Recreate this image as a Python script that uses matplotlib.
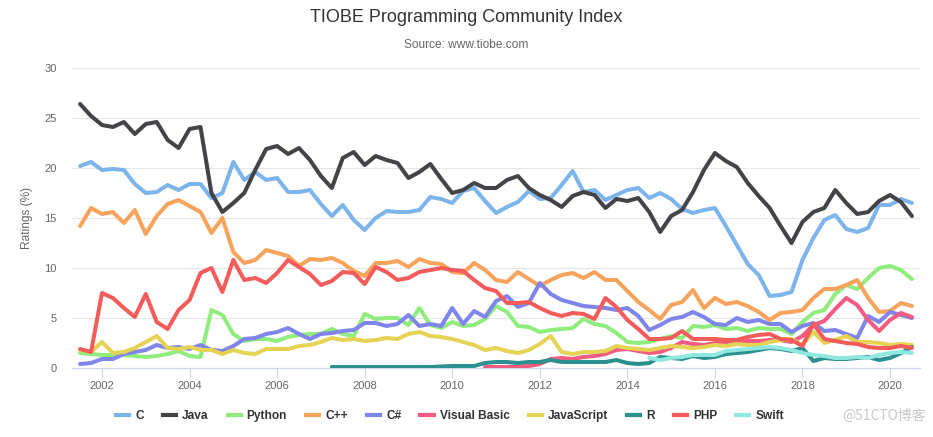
import numpy as np
import matplotlib.pyplot as plt
from matplotlib.lines import Line2D

plt.rcParams['font.family'] = ['Liberation Sans', 'DejaVu Sans']

# quarterly readings, mid 2001 .. mid 2020 (one row per year)
quarters = np.arange(2001.5, 2020.51, 0.25)

c_vals = [20.2, 20.6,
          19.8, 19.9, 19.8, 18.4,
          17.5, 17.6, 18.3, 17.8,
          18.4, 18.4, 17.0, 17.5,
          20.6, 18.8, 19.6, 18.8,
          19.0, 17.6, 17.6, 17.8,
          16.4, 15.2, 16.3, 14.8,
          13.8, 15.0, 15.7, 15.6,
          15.6, 15.8, 17.1, 16.9,
          16.5, 17.7, 18.0, 16.7,
          15.5, 16.1, 16.6, 17.7,
          16.9, 17.0, 18.3, 19.7,
          17.6, 17.8, 16.8, 17.3,
          17.8, 18.0, 17.0, 17.5,
          16.9, 15.9, 15.5, 15.8,
          16.0, 14.2, 12.3, 10.4,
          9.3, 7.2, 7.3, 7.6,
          10.8, 13.0, 14.8, 15.3,
          13.9, 13.6, 14.0, 16.3,
          16.3, 16.9, 16.5]

java_vals = [26.4, 25.2,
             24.3, 24.1, 24.6, 23.4,
             24.4, 24.6, 22.8, 22.0,
             23.9, 24.1, 17.5, 15.6,
             16.5, 17.5, 19.8, 21.9,
             22.2, 21.4, 22.0, 20.8,
             19.2, 18.0, 21.0, 21.6,
             20.3, 21.2, 20.8, 20.5,
             19.0, 19.6, 20.4, 18.9,
             17.5, 17.8, 18.5, 18.0,
             18.0, 18.8, 19.2, 18.0,
             17.3, 16.8, 16.1, 17.2,
             17.6, 17.3, 16.0, 16.9,
             16.7, 17.0, 15.6, 13.6,
             15.2, 15.8, 17.6, 19.8,
             21.5, 20.7, 20.1, 18.5,
             17.2, 16.0, 14.2, 12.5,
             14.6, 15.6, 16.0, 17.8,
             16.5, 15.4, 15.6, 16.7,
             17.3, 16.6, 15.2]

python_vals = [1.5, 1.4,
               1.3, 1.3, 1.3, 1.2,
               1.1, 1.2, 1.4, 1.7,
               1.2, 1.1, 5.8, 5.3,
               3.4, 2.7, 2.9, 2.9,
               2.7, 3.1, 3.3, 3.4,
               3.4, 3.9, 3.4, 3.2,
               5.4, 4.9, 5.0, 5.0,
               4.3, 6.0, 4.3, 4.0,
               4.6, 4.2, 4.3, 4.9,
               6.2, 5.6, 4.2, 4.1,
               3.6, 3.8, 3.9, 4.0,
               4.9, 4.4, 4.2, 3.5,
               2.6, 2.5, 2.6, 2.9,
               3.2, 3.0, 4.2, 4.1,
               4.3, 3.9, 4.0, 3.7,
               4.0, 3.9, 3.9, 3.4,
               4.6, 5.5, 5.8, 7.4,
               8.3, 7.9, 9.0, 10.0,
               10.2, 9.8, 8.9]

cpp_vals = [14.2, 16.0,
            15.4, 15.6, 14.5, 15.8,
            13.4, 15.2, 16.4, 16.8,
            16.2, 15.6, 13.5, 15.0,
            11.6, 10.5, 10.8, 11.8,
            11.5, 11.2, 10.2, 10.9,
            10.8, 11.0, 10.5, 9.7,
            9.2, 10.5, 10.5, 10.7,
            10.1, 10.9, 10.5, 10.4,
            9.6, 9.5, 10.5, 9.8,
            8.8, 8.6, 9.6, 8.9,
            8.2, 8.8, 9.3, 9.5,
            9.0, 9.6, 8.8, 8.8,
            7.7, 6.6, 5.8, 4.9,
            6.3, 6.6, 7.8, 6.0,
            7.0, 6.4, 6.6, 6.2,
            5.6, 4.8, 5.5, 5.6,
            5.8, 7.0, 7.9, 7.9,
            8.3, 8.8, 7.0, 5.6,
            5.7, 6.5, 6.2]

csharp_vals = [0.4, 0.5,
               0.9, 0.9, 1.4, 1.6,
               1.8, 2.3, 2.0, 2.1,
               1.9, 2.3, 1.8, 1.7,
               2.2, 2.9, 3.0, 3.4,
               3.6, 4.0, 3.4, 2.9,
               3.4, 3.5, 3.7, 3.8,
               4.5, 4.5, 4.2, 4.4,
               5.3, 4.2, 4.4, 4.2,
               6.0, 4.4, 5.7, 5.1,
               6.7, 7.2, 6.1, 6.5,
               8.5, 7.4, 6.8, 6.5,
               6.2, 6.1, 6.0, 5.8,
               6.0, 5.2, 3.8, 4.3,
               4.9, 5.1, 5.6, 5.1,
               4.4, 4.3, 5.0, 4.6,
               4.8, 4.4, 4.4, 3.6,
               4.2, 4.5, 3.7, 3.8,
               3.4, 3.0, 5.2, 4.6,
               5.6, 5.3, 5.0]

# Visual Basic starts late 2010
vb_start = 2010.75
vb_vals = [0.1,
           0.1, 0.1, 0.15, 0.2,
           0.4, 0.9, 1.0, 0.9,
           1.1, 1.2, 1.4, 1.8,
           1.9, 1.7, 1.5, 1.6,
           2.0, 2.6, 2.4, 2.3,
           2.5, 2.6, 2.5, 2.7,
           2.7, 2.8, 2.8, 2.6,
           3.2, 4.3, 4.7, 5.9,
           7.0, 6.3, 4.8, 3.7,
           4.8, 5.5, 5.1]

js_vals = [1.8, 1.6,
           2.6, 1.5, 1.6, 2.0,
           2.6, 3.2, 2.0, 1.9,
           2.1, 1.8, 1.8, 1.4,
           1.8, 1.5, 1.4, 1.9,
           1.9, 1.9, 2.2, 2.3,
           2.6, 3.0, 2.8, 2.9,
           2.7, 2.8, 3.0, 2.9,
           3.4, 3.6, 3.2, 3.1,
           2.9, 2.6, 2.3, 1.8,
           2.0, 1.7, 1.5, 1.8,
           2.4, 3.2, 1.6, 1.4,
           1.6, 1.6, 1.7, 2.2,
           2.0, 1.9, 1.8, 2.0,
           2.2, 2.1, 2.0, 2.1,
           2.3, 2.2, 2.4, 2.3,
           2.3, 2.6, 2.8, 2.9,
           2.3, 3.6, 2.5, 2.8,
           3.2, 2.6, 2.6, 2.5,
           2.3, 2.4, 2.3]

r_start = 2007.25
r_vals = [0.1, 0.1, 0.1,
          0.1, 0.1, 0.1, 0.1,
          0.1, 0.1, 0.1, 0.15,
          0.2, 0.2, 0.2, 0.5,
          0.6, 0.6, 0.5, 0.6,
          0.6, 0.8, 0.6, 0.6,
          0.6, 0.6, 0.6, 0.8,
          0.5, 0.4, 0.5, 1.1,
          1.0, 0.9, 1.2, 1.0,
          1.1, 1.4, 1.5, 1.6,
          1.8, 2.0, 1.9, 1.7,
          2.0, 0.7, 1.0, 0.9,
          0.9, 1.0, 1.1, 0.8,
          1.0, 1.5, 2.1]

php_vals = [1.9, 1.6,
            7.5, 7.0, 6.0, 5.1,
            7.4, 4.6, 3.9, 5.8,
            6.8, 9.5, 10.0, 7.6,
            10.8, 8.8, 9.0, 8.5,
            9.5, 10.8, 10.1, 9.4,
            8.3, 8.7, 9.6, 9.5,
            8.4, 10.1, 9.6, 8.8,
            9.0, 9.6, 9.8, 10.0,
            9.8, 9.7, 8.8, 8.0,
            7.7, 6.5, 6.5, 6.6,
            6.0, 5.5, 5.2, 5.5,
            5.4, 4.9, 7.0, 6.1,
            4.8, 3.9, 2.9, 2.9,
            3.0, 3.7, 2.9, 2.9,
            2.9, 2.8, 2.8, 3.1,
            3.3, 3.4, 2.9, 2.8,
            2.2, 4.4, 2.9, 2.7,
            2.5, 2.4, 2.1, 2.0,
            2.0, 2.2, 2.0]

swift_start = 2014.5
swift_vals = [1.0, 0.8,
              1.0, 1.1, 1.3, 1.3,
              1.3, 1.7, 1.8, 1.9,
              2.0, 2.1, 2.0, 1.8,
              1.5, 1.3, 1.2, 1.0,
              1.0, 1.1, 1.0, 1.3,
              1.5, 1.6, 1.5]

names = ['C', 'Java', 'Python', 'C++', 'C#', 'Visual Basic', 'JavaScript', 'R', 'PHP', 'Swift']
colors = ['#7cb5ec', '#434348', '#90ed7d', '#f7a35c', '#8085e9',
          '#f15c80', '#e4d354', '#2b908f', '#f45b5b', '#91e8e1']
values = [c_vals, java_vals, python_vals, cpp_vals, csharp_vals,
          vb_vals, js_vals, r_vals, php_vals, swift_vals]
starts = [2001.5, 2001.5, 2001.5, 2001.5, 2001.5,
          vb_start, 2001.5, r_start, 2001.5, swift_start]

fig = plt.figure(figsize=(9.33, 4.37), dpi=100)
ax = fig.add_axes([72/933, 69/437, 848/933, 300/437])

for i, (name, vals, start, col) in enumerate(zip(names, values, starts, colors)):
    x = quarters[quarters >= start - 1e-6]
    ax.plot(x, vals, color=col, lw=2.9, solid_joinstyle='round',
            solid_capstyle='round', zorder=3 + i, label=name)

ax.set_xlim(2001.315, 2020.685)
ax.set_ylim(0, 30)
ax.set_yticks(range(0, 31, 5))
ax.set_xticks(range(2002, 2021, 2))
ax.grid(axis='y', color='#e6e6e6', lw=0.8)
ax.set_axisbelow(True)
for s in ['left', 'right', 'top']:
    ax.spines[s].set_visible(False)
ax.spines['bottom'].set_color('#ccd6eb')
ax.spines['bottom'].set_linewidth(0.8)
ax.tick_params(axis='x', length=7.2, width=0.8, color='#ccd6eb',
               labelsize=8, labelcolor='#666666', pad=2)
ax.tick_params(axis='y', length=0, labelsize=8, labelcolor='#666666', pad=11)

fig.text(0.5, 1 - 17/437, 'TIOBE Programming Community Index', ha='center', va='center',
         fontsize=13, color='#333333')
fig.text(0.5, 1 - 45/437, 'Source: www.tiobe.com', ha='center', va='center',
         fontsize=8.6, color='#666666')
fig.text(27/933, 1 - 218/437, 'Ratings (%)', rotation=90, ha='center', va='center',
         fontsize=8.6, color='#666666')

handles = [Line2D([0], [0], color=c, lw=3) for c in colors]
leg = fig.legend(handles, names, loc='center', bbox_to_anchor=(450/933, 1 - 416/437),
                 ncol=10, frameon=False, prop={'weight': 'bold', 'size': 8.6},
                 handlelength=1.1, handletextpad=0.5, columnspacing=1.6)
for t in leg.get_texts():
    t.set_color('#333333')

fig.text(926/933, 1 - 416/437, '@51CTO博客', ha='right', va='center', fontsize=10,
         color='#c8c8c8', family=['Noto Sans CJK SC', 'DejaVu Sans'])

fig.savefig('out.png', dpi=100)
